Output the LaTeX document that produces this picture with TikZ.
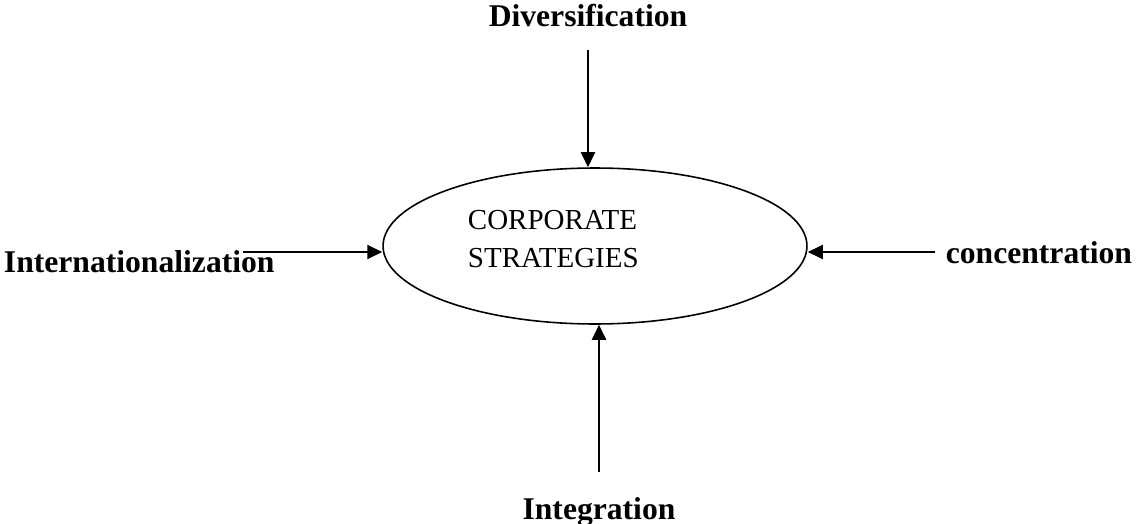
\documentclass[tikz,border=0pt]{standalone}
\usepackage{fontspec}
\setmainfont{Liberation Serif}
\usetikzlibrary{arrows.meta,shapes.geometric,positioning,calc}
\newcommand{\strat}[1]{\textbf{\fontsize{18}{22}\selectfont #1}}

\begin{document}
\begin{tikzpicture}[x=0.02cm,y=-0.02cm,>={Triangle[length=0.3cm,width=0.28cm]},
     line width=1.1pt]
    \useasboundingbox (0,0) rectangle (1136,524);
    \node[draw, ellipse, line width=0.9pt, minimum width=8.48cm, minimum height=3.12cm, inner sep=0pt] (cs) at (595, 246) {};
    % base of a two-line node is the baseline of its last line
    \node[anchor=base west, align=left, inner sep=0pt, font=\fontsize{16.5}{21.6}\selectfont] (cstext) at (467, 267) {CORPORATE\\STRATEGIES};
    \node[anchor=base, inner sep=0pt] (div) at (588, 27) {\strat{Diversification}};
    \node[anchor=base west, inner sep=0pt] (intl) at (3, 272) {\strat{Internationalization}};
    \node[anchor=base east, inner sep=0pt] (conc) at (1133, 263) {\strat{concentration}};
    \node[anchor=base, inner sep=0pt] (integ) at (599, 519) {\strat{Integration}};
    % tails of the four arrows
    \coordinate (divtail) at (588, 50);
    \coordinate (intltail) at (243, 252);
    \coordinate (conctail) at (935, 252);
    \coordinate (integtail) at (599, 472);
    \draw[->] (divtail) -- (divtail |- cs.north);
    \draw[->] (intltail) -- (intltail -| cs.west);
    \draw[->] (conctail) -- (conctail -| cs.east);
    \draw[->] (integtail) -- (integtail |- cs.south);
    % \draw[->] (div) -- (cs);
\end{tikzpicture}
\end{document}
